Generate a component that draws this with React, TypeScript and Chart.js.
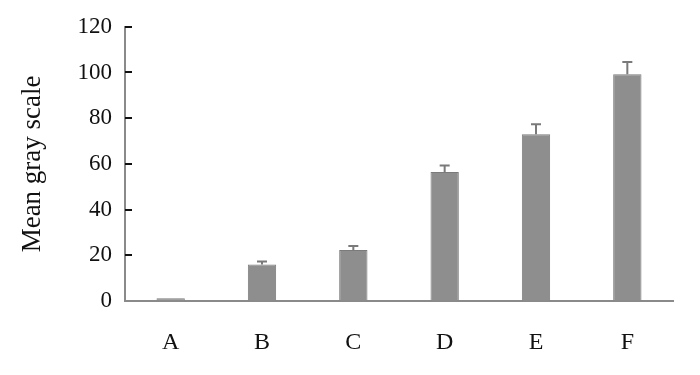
import React, { useEffect, useRef } from 'react';
import { Chart, registerables } from 'chart.js';
Chart.register(...registerables);

const categories = ['A', 'B', 'C', 'D', 'E', 'F'];
const means = [1.2, 16, 22.3, 56.5, 73, 99.2];
const errors = [0, 1.3, 1.8, 2.8, 4.4, 5.4];
const yMin = 0;
const yMax = 120;
const yStep = 20;

const FONT = '"Liberation Serif", "DejaVu Serif", serif';

const errorBarPlugin = {
  id: 'errorBars',
  afterDatasetsDraw(chart: any) {
    const ctx = chart.ctx;
    const meta = chart.getDatasetMeta(0);
    const y = chart.scales.y;
    ctx.save();
    ctx.strokeStyle = '#7a7a7a';
    ctx.lineWidth = 2;
    meta.data.forEach((bar: any, i: number) => {
      const e = errors[i];
      if (!e) return;
      const top = y.getPixelForValue(means[i] + e);
      const base = y.getPixelForValue(means[i]);
      ctx.beginPath();
      ctx.moveTo(bar.x, base);
      ctx.lineTo(bar.x, top);
      ctx.moveTo(bar.x - 5, top);
      ctx.lineTo(bar.x + 5, top);
      ctx.stroke();
    });
    ctx.restore();
  },
};

const innerTicksPlugin = {
  id: 'innerTicks',
  afterDraw(chart: any) {
    const ctx = chart.ctx;
    const y = chart.scales.y;
    ctx.save();
    ctx.strokeStyle = '#111';
    ctx.lineWidth = 2;
    y.ticks.forEach((t: any) => {
      if (t.value === 0) return;
      const py = Math.round(y.getPixelForValue(t.value));
      ctx.beginPath();
      ctx.moveTo(y.right, py);
      ctx.lineTo(y.right + 7, py);
      ctx.stroke();
    });
    ctx.restore();
  },
};

export default function App() {
  const ref = useRef<HTMLCanvasElement>(null);
  useEffect(() => {
    if (!ref.current) return;
    const chart = new Chart(ref.current, {
      type: 'bar',
      data: {
        labels: categories,
        datasets: [
          {
            data: means,
            backgroundColor: '#8e8e8e',
            borderColor: '#7b7b7b',
            borderWidth: 1,
            barPercentage: 0.31,
            categoryPercentage: 1,
          },
        ],
      },
      options: {
        responsive: false,
        animation: false,
        layout: { padding: { top: 22, right: 27, left: 0, bottom: 0 } },
        plugins: { legend: { display: false }, tooltip: { enabled: false } },
        scales: {
          x: {
            grid: { drawOnChartArea: false, drawTicks: false, color: 'rgba(0,0,0,0)' },
            border: { display: true, color: '#8a8a8a', width: 2 },
            ticks: { color: '#111', font: { family: FONT, size: 24 }, padding: 27 },
            afterFit: (s: any) => { s.height = 74; },
          },
          y: {
            min: yMin,
            max: yMax,
            grid: { drawOnChartArea: false, drawTicks: false, color: 'rgba(0,0,0,0)' },
            border: { display: true, color: '#8a8a8a', width: 2 },
            ticks: { stepSize: yStep, color: '#111', font: { family: FONT, size: 23 }, padding: 13 },
            title: {
              display: true,
              text: 'Mean gray scale',
              color: '#111',
              font: { family: FONT, size: 27 },
              padding: { top: 17, bottom: 0 },
            },
            afterFit: (s: any) => { s.width = 125; },
          },
        },
      },
      plugins: [errorBarPlugin, innerTicksPlugin],
    });
    return () => chart.destroy();
  }, []);
  return (
    <div style={{ position: 'absolute', left: 0, top: 0, width: 700, height: 375, background: '#fff' }}>
      <canvas ref={ref} width={700} height={375} />
    </div>
  );
}
